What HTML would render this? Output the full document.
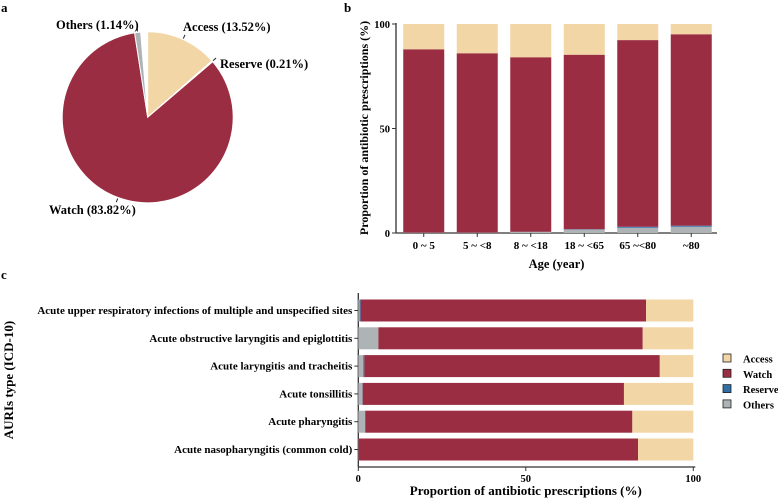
<!DOCTYPE html>
<html><head><meta charset="utf-8"><style>
body{margin:0;background:#fff;}
svg{display:block;font-family:"Liberation Serif",serif;font-weight:bold;}
</style></head><body>
<svg id="fig" width="778" height="501" viewBox="0 0 778 501" xmlns="http://www.w3.org/2000/svg">
<text x="1" y="12" font-size="13">a</text>
<text x="344" y="12" font-size="13">b</text>
<text x="1" y="279" font-size="13">c</text>
<g id="pie"></g>
<g id="barb"></g>
<g id="barc"></g>
</svg>
<script>
const NS="http://www.w3.org/2000/svg";
const colors={Access:"#f2d6a6",Watch:"#9b2d42",Reserve:"#2f6fa6",Others:"#aeb3b6"};
// pie data
const pieCats=["Access","Reserve","Watch","Others"];
const pieVals=[13.52,0.21,83.82,1.14];
// panel b data
const ageCats=["0 ~ 5","5 ~ <8","8 ~ <18","18 ~ <65","65 ~<80","~80"];
const ageOthers=[0.2,0.2,0.5,1.6,2.5,3.0];
const ageReserve=[0.0,0.0,0.1,0.2,0.5,0.5];
const ageWatch=[87.7,85.8,83.5,83.5,89.3,91.6];
const ageAccess=[12.1,14.0,15.9,14.7,7.7,4.9];
const bTicks=[0,50,100];
// panel c data
const auriCats=["Acute upper respiratory infections of multiple and unspecified sites","Acute obstructive laryngitis and epiglottitis","Acute laryngitis and tracheitis","Acute tonsillitis","Acute pharyngitis","Acute nasopharyngitis (common cold)"];
const auriOthers=[0.4,6.0,1.5,1.2,2.0,0.1];
const auriReserve=[0.3,0.0,0.3,0.1,0.2,0.0];
const auriWatch=[85.2,78.9,88.2,78.0,79.6,83.4];
const auriAccess=[14.1,15.1,10.0,20.7,18.2,16.5];
const cTicks=[0,50,100];

function el(tag,attrs,parent,txt){const e=document.createElementNS(NS,tag);for(const k in attrs)e.setAttribute(k,attrs[k]);if(txt!==undefined)e.textContent=txt;parent.appendChild(e);return e;}

// PIE
const pie=document.getElementById('pie');
const cx=147.7,cy=117.3,R=85.5;
let acc=0;
const labelPos={Access:[183,31],Reserve:[220,68],Watch:[49,214],Others:[56,29]};
pieCats.forEach((c,i)=>{
  const a0=acc/100*2*Math.PI; acc+=pieVals[i]; const a1=acc/100*2*Math.PI;
  const x0=cx+R*Math.sin(a0),y0=cy-R*Math.cos(a0),x1=cx+R*Math.sin(a1),y1=cy-R*Math.cos(a1);
  const large=(a1-a0)>Math.PI?1:0;
  const p=el('path',{d:`M${cx},${cy}L${x0},${y0}A${R},${R} 0 ${large} 1 ${x1},${y1}Z`,fill:colors[c],stroke:"#fff","stroke-width":1},pie);
  
  
  const am=(a0+a1)/2;
  const t1=[cx+(R+1)*Math.sin(am),cy-(R+1)*Math.cos(am)],t2=[cx+(R+5)*Math.sin(am),cy-(R+5)*Math.cos(am)];
  el('line',{x1:t1[0],y1:t1[1],x2:t2[0],y2:t2[1],stroke:"#222","stroke-width":1},pie);
  const lp=labelPos[c];
  const t=el('text',{x:lp[0],y:lp[1],"font-size":12.5,"text-anchor":"start"},pie,`${c} (${pieVals[i].toFixed(2)}%)`);
  
  
});

// PANEL B
const gb=document.getElementById('barb');
const bx0=396,bx1=717,by0=233,by1=24;
const yb=v=>by0-(v/100)*(by0-by1);
const step=(bx1-bx0)/ageCats.length, bw=41;
el('line',{x1:bx0,y1:by1-1,x2:bx0,y2:by0,stroke:"#333","stroke-width":1.3},gb);
el('line',{x1:bx0,y1:by0,x2:bx1,y2:by0,stroke:"#333","stroke-width":1.3},gb);
bTicks.forEach(v=>{el('line',{x1:bx0-4,y1:yb(v),x2:bx0,y2:yb(v),stroke:"#333"},gb);
  const t=el('text',{x:bx0-6,y:yb(v)+4,"font-size":10.5,"text-anchor":"end"},gb,v);
  });
const bt=el('text',{transform:`translate(368,128) rotate(-90)`,"font-size":12,"text-anchor":"middle"},gb,"Proportion of antibiotic prescriptions (%)");

const bxt=el('text',{x:(bx0+bx1)/2,y:268,"font-size":12.5,"text-anchor":"middle"},gb,"Age (year)");

ageCats.forEach((c,i)=>{
  const xc=bx0+step*(i+0.5)+1;
  let base=0;
  [["Others",ageOthers[i]],["Reserve",ageReserve[i]],["Watch",ageWatch[i]],["Access",ageAccess[i]]].forEach(([s,v])=>{
    const r=el('rect',{x:xc-bw/2,y:yb(base+v),width:bw,height:Math.max(0,yb(base)-yb(base+v)),fill:colors[s]},gb);
    
    
    base+=v;});
  el('line',{x1:xc,y1:by0,x2:xc,y2:by0+4,stroke:"#333"},gb);
  const t=el('text',{x:xc,y:by0+16,"font-size":11,"text-anchor":"middle"},gb,c);
  
});

// PANEL C
const gc=document.getElementById('barc');
const cx0=358.3,cx1=693.3,cyTop=293,cyBot=467;
const xc=v=>cx0+(v/100)*(cx1-cx0);
const rowStep=27.8,rowH=22,row0=310.5;
el('line',{x1:cx0,y1:cyTop,x2:cx0,y2:cyBot,stroke:"#333","stroke-width":1.3},gc);
el('line',{x1:cx0,y1:cyBot,x2:cx1+2,y2:cyBot,stroke:"#333","stroke-width":1.3},gc);
cTicks.forEach(v=>{el('line',{x1:xc(v),y1:cyBot,x2:xc(v),y2:cyBot+4,stroke:"#333"},gc);
  const t=el('text',{x:xc(v),y:cyBot+15,"font-size":10.5,"text-anchor":"middle"},gc,v);
  });
const cxt=el('text',{x:(cx0+cx1)/2,y:495,"font-size":13,"text-anchor":"middle"},gc,"Proportion of antibiotic prescriptions (%)");

const cyt=el('text',{transform:`translate(13,380) rotate(-90)`,"font-size":13,"text-anchor":"middle"},gc,"AURIs type (ICD-10)");

auriCats.forEach((c,i)=>{
  const yc=row0+rowStep*i;
  let base=0;
  [["Others",auriOthers[i]],["Reserve",auriReserve[i]],["Watch",auriWatch[i]],["Access",auriAccess[i]]].forEach(([s,v])=>{
    const r=el('rect',{x:xc(base),y:yc-rowH/2,width:Math.max(0,xc(base+v)-xc(base)),height:rowH,fill:colors[s]},gc);
    
    
    base+=v;});
  el('line',{x1:cx0-4,y1:yc,x2:cx0,y2:yc,stroke:"#333"},gc);
  const t=el('text',{x:cx0-6,y:yc+3.5,"font-size":11,"text-anchor":"end"},gc,c);
  
});
// legend
["Access","Watch","Reserve","Others"].forEach((s,i)=>{
  const y=359+i*15.3;
  const r=el('rect',{x:723,y:y-5,width:8,height:8,fill:colors[s],stroke:"#222","stroke-width":0.8},gc);
  
  const t=el('text',{x:743,y:y+3.5,"font-size":10.5},gc,s);
  
});
</script>
</body></html>
